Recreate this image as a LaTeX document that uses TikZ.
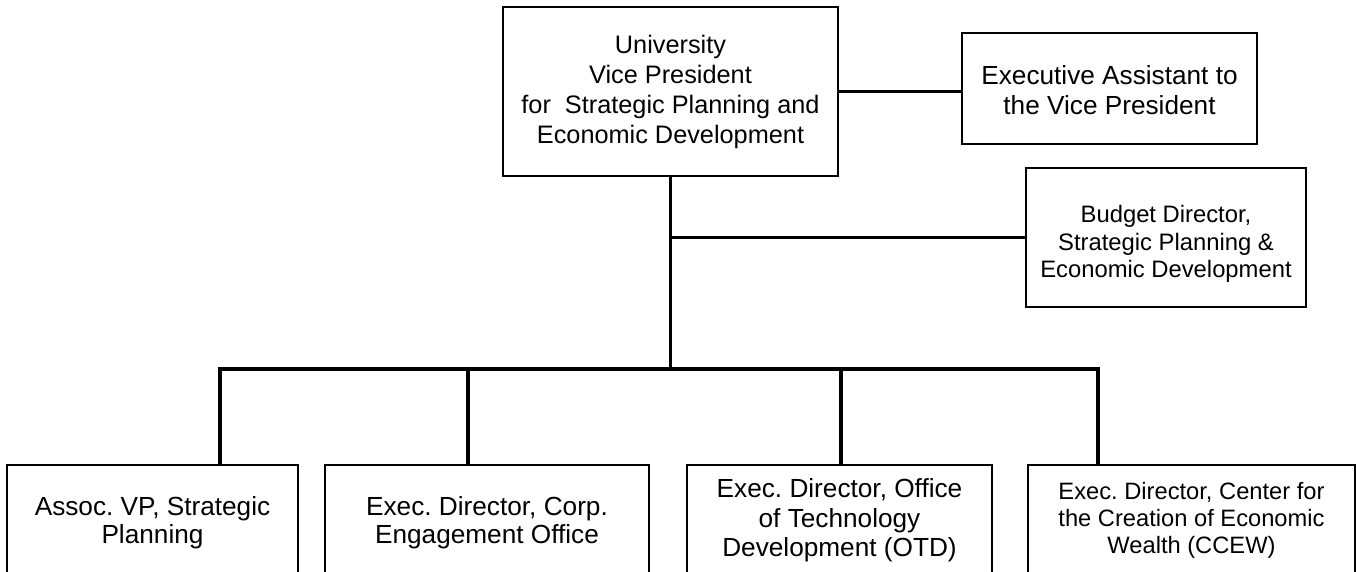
\documentclass[tikz,border=0pt]{standalone}
\usepackage{fontspec}
\setmainfont{Liberation Sans}
\frenchspacing
\newcommand{\myfs}[2]{\fontsize{#1}{#2}\selectfont\frenchspacing}
\tikzset{
  box/.style={draw, line width=2pt, align=center, inner sep=0pt},
  conn/.style={line width=3.3pt},
}
\begin{document}
\begin{tikzpicture}[x=1pt,y=-1pt]
\useasboundingbox (0,0) rectangle (1356,571);
\clip (0,0) rectangle (1356,571);
% top level
\node[box, minimum width=335pt, minimum height=169pt, font=\myfs{25.3}{30}] (vp) at (670.5,91.5)
  {University\\Vice President\\for\ \ Strategic Planning and\\Economic Development};
\node[box, minimum width=295pt, minimum height=111pt, font=\myfs{26.2}{30}] (ea) at (1109.5,88.5)
  {\rule{0pt}{23pt}Executive Assistant to\\the Vice President};
\node[box, minimum width=280pt, minimum height=139pt, font=\myfs{23.8}{27.5}] (bd) at (1166,237.5)
  {\rule{0pt}{30pt}Budget Director,\\Strategic Planning \&\\Economic Development};
% bottom row
\node[box, minimum width=291pt, minimum height=111pt, font=\myfs{26.2}{28}] (b1) at (152.5,520.5)
  {\rule{0pt}{23pt}Assoc. VP, Strategic\\Planning};
\node[box, minimum width=324pt, minimum height=111pt, font=\myfs{26.2}{28}] (b2) at (487,520.5)
  {\rule{0pt}{23pt}Exec. Director, Corp.\\Engagement Office};
\node[box, minimum width=305pt, minimum height=111pt, font=\myfs{26.2}{29.5}] (b3) at (839.5,520.5)
  {Exec. Director, Office\\of Technology\\Development (OTD)};
\node[box, minimum width=327pt, minimum height=111pt, font=\myfs{23.7}{26.7}] (b4) at (1191.5,520.5)
  {Exec. Director, Center for\\the Creation of Economic\\Wealth (CCEW)};
% bus coordinates
\coordinate (d1) at (220,369);
\coordinate (d2) at (468,369);
\coordinate (d3) at (841,369);
\coordinate (d4) at (1098,369);
% connectors
\draw[conn] (vp.east) -- (vp.east -| ea.west);
\draw[conn] (vp.south) -- (vp.south |- d1);
\draw[conn] (vp.south |- bd.west) -- (bd.west);
\draw[conn] (b1.north -| d1) -- (d1) -- (d4) -- (d4 |- b4.north);
\draw[conn] (d2) -- (d2 |- b2.north);
\draw[conn] (d3) -- (d3 |- b3.north);
\end{tikzpicture}
\end{document}
